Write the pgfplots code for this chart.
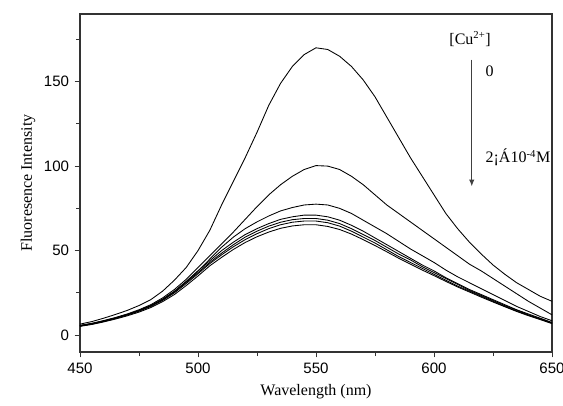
\documentclass[border=0pt]{standalone}
\usepackage{fontspec}
\setmainfont{Liberation Serif}
\newfontfamily\arial{Liberation Sans}
\usepackage{pgfplots}
\usepackage{pgfplotstable}
\usetikzlibrary{arrows.meta}
\pgfplotsset{compat=1.18}
\pgfplotstableread{
x c1 c2 c3 c4 c5 c6 c7
450 6.5 5.8 5.6 5.5 5.4 5.3 5.2
455 8.0 7.0 6.8 6.7 6.6 6.5 6.3
460 10.0 8.6 8.4 8.3 8.2 8.0 7.8
465 12.2 10.4 10.2 10.1 10.0 9.8 9.5
470 14.6 12.5 12.2 12.2 12.1 11.8 11.4
475 17.5 15.0 14.5 14.6 14.5 14.1 13.6
480 21.0 18.0 17.3 17.5 17.4 16.9 16.3
485 26.0 22.0 21.0 21.3 21.0 20.5 19.8
490 32.5 27.0 25.8 26.0 25.5 25.0 24.0
495 40.0 33.0 31.5 31.8 31.2 30.5 29.3
500 50.0 40.0 38.0 38.0 37.0 36.3 35.0
505 62.0 47.0 45.0 44.0 43.0 42.3 41.0
510 77.0 54.0 52.0 50.0 48.5 47.5 46.0
515 91.0 61.0 58.0 55.0 53.5 52.3 50.7
520 105.0 68.5 63.0 59.5 58.0 56.5 54.8
525 120.0 76.0 67.0 63.0 61.5 60.0 58.2
530 136.0 83.0 70.5 66.0 64.5 63.0 61.0
535 149.0 89.0 73.5 68.5 66.8 65.3 63.2
540 159.0 94.0 75.5 70.0 68.3 66.8 64.6
545 166.0 98.0 77.0 71.0 69.0 67.5 65.3
550 170.0 100.3 77.5 71.0 69.0 67.5 65.3
555 169.0 100.0 77.0 70.0 68.0 66.5 64.3
560 165.0 98.0 75.0 68.0 66.0 64.5 62.5
565 159.0 94.0 72.0 65.0 63.0 61.5 59.8
570 151.0 89.0 68.0 61.5 59.5 58.0 56.5
575 141.0 83.0 64.0 57.5 56.0 54.5 53.0
580 129.0 77.0 60.0 53.5 52.0 50.5 49.3
585 117.0 72.0 55.5 49.5 48.0 46.5 45.5
590 105.0 67.0 51.0 45.5 44.5 43.0 42.0
595 94.0 62.0 47.0 41.5 40.5 39.5 38.5
600 83.0 57.0 43.0 38.0 37.0 36.0 35.2
605 72.0 52.0 38.5 34.0 33.5 32.5 31.8
610 63.0 47.0 34.5 30.5 30.0 29.0 28.5
615 55.0 42.0 31.0 27.0 26.5 26.0 25.5
620 48.0 38.0 27.5 24.0 23.5 23.0 22.5
625 41.5 33.5 24.0 21.0 20.5 20.0 19.6
630 36.0 29.0 20.5 18.0 17.5 17.0 16.8
635 31.0 24.5 17.0 15.0 14.8 14.3 14.0
640 27.0 20.0 14.0 12.5 12.0 11.7 11.5
645 23.0 16.0 11.0 10.0 9.7 9.4 9.2
650 20.0 12.0 8.5 7.5 7.2 7.0 6.8
}\spectra
\begin{document}
\fontsize{12}{14}\selectfont
\begin{tikzpicture}
\useasboundingbox (0,0) rectangle (422.25pt,303.75pt);
\begin{axis}[
  at={(60pt,39.75pt)}, anchor=south west,
  scale only axis, width=354pt, height=253.5pt,
  xmin=450, xmax=650, ymin=-10, ymax=190,
  xtick={450,500,...,650}, minor xtick={475,525,575,625},
  ytick={0,50,100,150}, minor ytick={25,75,125,175},
  tick align=outside, major tick length=4pt, minor tick length=3pt,
  xtick pos=bottom, ytick pos=left,
  axis line style={black!80, line width=0.8pt},
  every tick/.style={black!80, line width=0.7pt},
  ticklabel style={font=\arial\fontsize{11.3}{13}\selectfont},
  /pgf/number format/assume math mode=true,
  xlabel={Wavelength (nm)}, ylabel={Fluoresence Intensity},
  xlabel style={at={(axis description cs:0.5,-0.118)}, anchor=center},
  ylabel style={at={(axis description cs:-0.11,0.5)}, anchor=center},
  label style={font=\fontsize{12}{14}\selectfont},
  clip=false,
]
\foreach \c in {c1,c2,c3,c4,c5,c6,c7}{
  \addplot[black, line width=0.65pt, no marks] table[x=x, y=\c] {\spectra};
}
\node at (axis cs:615.3,175) {[Cu\textsuperscript{2+}]};
\draw[-{Latex[length=5pt,width=4pt]}, black!75, line width=0.8pt] (axis cs:616,163) -- (axis cs:616,88);
\node[anchor=west] at (axis cs:619.5,156) {0};
\node[anchor=west] at (axis cs:619.5,105) {2¡Á10\textsuperscript{-4}M};
\end{axis}
\end{tikzpicture}
\end{document}
